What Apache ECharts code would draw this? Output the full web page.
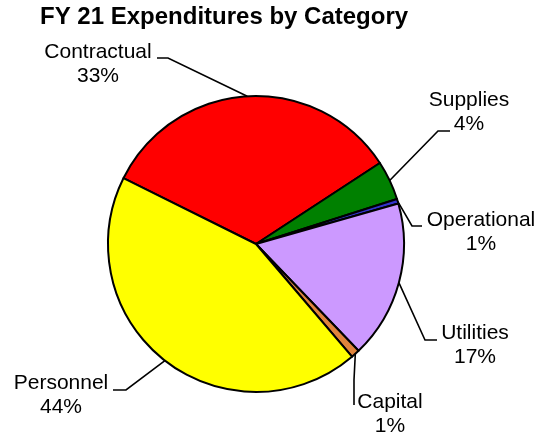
<!DOCTYPE html>
<html>
<head>
<meta charset="utf-8">
<script src="https://cdn.jsdelivr.net/npm/echarts@6/dist/echarts.min.js"></script>
<style>
  html, body { margin: 0; padding: 0; background: #fff; }
  #chart { width: 552px; height: 435px; }
</style>
</head>
<body>
<div id="chart"></div>
<script>
// ---- data ----
const categories = ['Contractual', 'Supplies', 'Operational', 'Utilities', 'Capital', 'Personnel'];
const values = [33.4, 4.3, 0.5, 17.2, 0.95, 43.5];
const colors = ['#FF0000', '#008000', '#3333CC', '#CC99FF', '#E0843C', '#FFFF00'];

// ---- label layout (positions of labels and leader-line bends) ----
const labelLayoutCfg = [
  { x: 98,  y: 64,  bend: [168, 58],  end: [157, 58] },
  { x: 469, y: 112, bend: [438, 131], end: [450, 131] },
  { x: 481, y: 232, bend: [412, 226], end: [422, 226] },
  { x: 475, y: 345, bend: [425, 340], end: [437, 340] },
  { x: 390, y: 414, bend: [354, 380], end: [354, 405] },
  { x: 61,  y: 395, bend: [126, 390], end: [113, 390] }
];

const FONT = '"Liberation Sans", Arial, sans-serif';
const chart = echarts.init(document.getElementById('chart'), null, { renderer: 'canvas' });

chart.setOption({
  animation: false,
  backgroundColor: '#ffffff',
  title: {
    text: 'FY 21 Expenditures by Category',
    left: 40,
    top: 5,
    padding: 0,
    textStyle: { fontFamily: FONT, fontSize: 24, fontWeight: 'bold', color: '#000' }
  },
  series: [{
    type: 'pie',
    center: [256, 244],
    radius: 148,
    startAngle: 153.6,
    clockwise: true,
    avoidLabelOverlap: false,
    itemStyle: { borderColor: '#000', borderWidth: 2 },
    label: {
      show: true,
      position: 'outside',
      fontFamily: FONT,
      fontSize: 21,
      lineHeight: 24,
      color: '#000',
      align: 'center',
      formatter: function (p) { return p.name + '\n' + Math.round(p.percent) + '%'; }
    },
    labelLine: {
      show: true,
      length: 10,
      length2: 10,
      lineStyle: { color: '#000', width: 1.6 }
    },
    labelLayout: function (params) {
      const L = labelLayoutCfg[params.dataIndex];
      const pts = params.labelLinePoints;
      return {
        x: L.x,
        y: L.y,
        align: 'center',
        verticalAlign: 'middle',
        labelLinePoints: [pts[0], L.bend, L.end]
      };
    },
    emphasis: { disabled: true },
    data: categories.map(function (c, i) {
      return { name: c, value: values[i], itemStyle: { color: colors[i] } };
    })
  }]
});
</script>
</body>
</html>
